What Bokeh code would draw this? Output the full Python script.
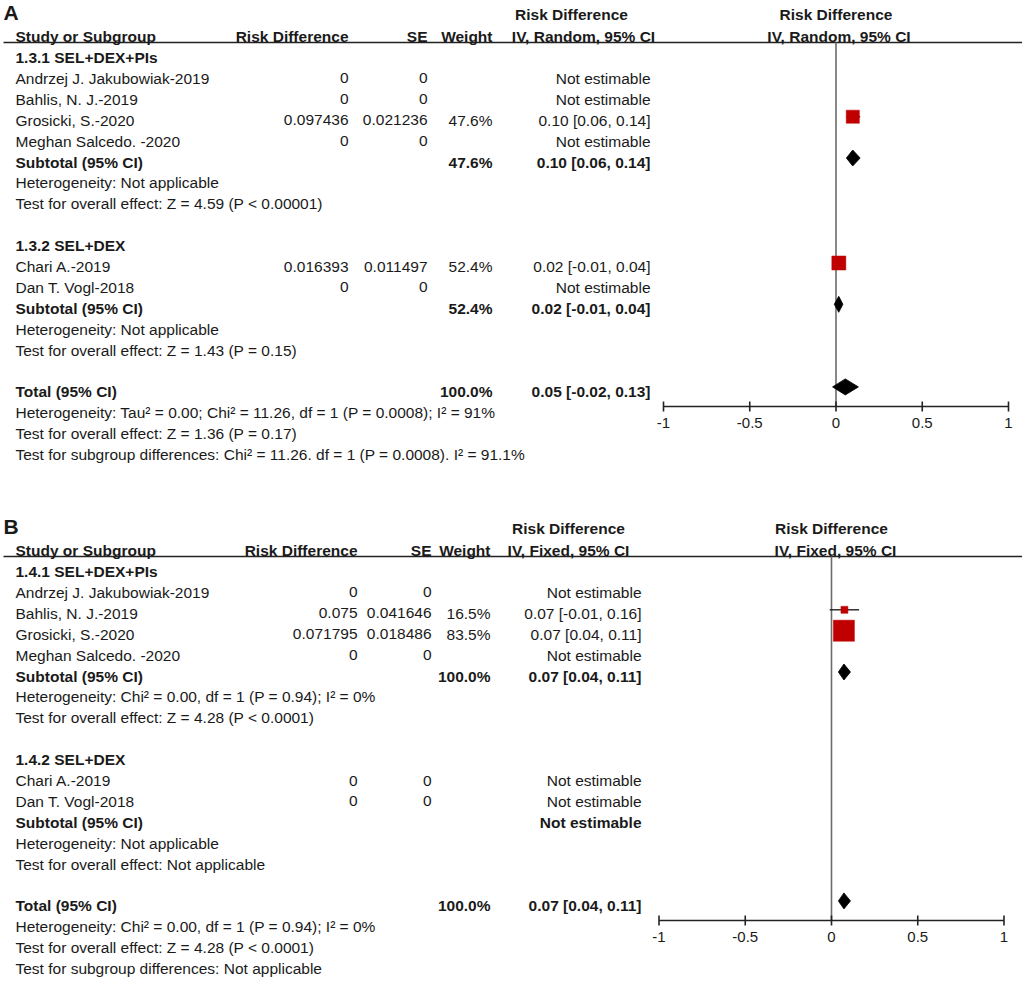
from bokeh.plotting import figure
from bokeh.models import Range1d, ColumnDataSource
from bokeh.core.properties import value
from bokeh.embed import file_html
from bokeh.resources import INLINE

FONT = value("Liberation Sans")
TXT = "#1a1a1a"

# ---------------- Panel A data ----------------
A_label = "A"
A_method = "IV, Random, 95% CI"
A_groups = ["1.3.1 SEL+DEX+PIs", "1.3.2 SEL+DEX"]
A_study = ["Andrzej J. Jakubowiak-2019", "Bahlis, N. J.-2019", "Grosicki, S.-2020",
           "Meghan Salcedo. -2020", "Chari A.-2019", "Dan T. Vogl-2018"]
A_study_group = [0, 0, 0, 0, 1, 1]
A_rd = [0, 0, 0.097436, 0, 0.016393, 0]
A_se = [0, 0, 0.021236, 0, 0.011497, 0]
A_weight = [None, None, 47.6, None, 52.4, None]
A_lo = [None, None, 0.06, None, -0.01, None]
A_hi = [None, None, 0.14, None, 0.04, None]
A_sub_weight = [47.6, 52.4]
A_sub_est = [0.097, 0.016]
A_sub_lo = [0.06, -0.01]
A_sub_hi = [0.14, 0.04]
A_sub_het = ["Heterogeneity: Not applicable", "Heterogeneity: Not applicable"]
A_sub_test = ["Test for overall effect: Z = 4.59 (P < 0.00001)",
              "Test for overall effect: Z = 1.43 (P = 0.15)"]
A_tot = [100.0, 0.054, -0.02, 0.13]
A_tot_notes = ["Heterogeneity: Tau\u00b2 = 0.00; Chi\u00b2 = 11.26, df = 1 (P = 0.0008); I\u00b2 = 91%",
               "Test for overall effect: Z = 1.36 (P = 0.17)",
               "Test for subgroup differences: Chi\u00b2 = 11.26. df = 1 (P = 0.0008). I\u00b2 = 91.1%"]

# ---------------- Panel B data ----------------
B_label = "B"
B_method = "IV, Fixed, 95% CI"
B_groups = ["1.4.1 SEL+DEX+PIs", "1.4.2 SEL+DEX"]
B_study = ["Andrzej J. Jakubowiak-2019", "Bahlis, N. J.-2019", "Grosicki, S.-2020",
           "Meghan Salcedo. -2020", "Chari A.-2019", "Dan T. Vogl-2018"]
B_study_group = [0, 0, 0, 0, 1, 1]
B_rd = [0, 0.075, 0.071795, 0, 0, 0]
B_se = [0, 0.041646, 0.018486, 0, 0, 0]
B_weight = [None, 16.5, 83.5, None, None, None]
B_lo = [None, -0.01, 0.04, None, None, None]
B_hi = [None, 0.16, 0.11, None, None, None]
B_sub_weight = [100.0, None]
B_sub_est = [0.072, None]
B_sub_lo = [0.04, None]
B_sub_hi = [0.11, None]
B_sub_het = ["Heterogeneity: Chi\u00b2 = 0.00, df = 1 (P = 0.94); I\u00b2 = 0%",
             "Heterogeneity: Not applicable"]
B_sub_test = ["Test for overall effect: Z = 4.28 (P < 0.0001)",
              "Test for overall effect: Not applicable"]
B_tot = [100.0, 0.072, 0.04, 0.11]
B_tot_notes = ["Heterogeneity: Chi\u00b2 = 0.00, df = 1 (P = 0.94); I\u00b2 = 0%",
               "Test for overall effect: Z = 4.28 (P < 0.0001)",
               "Test for subgroup differences: Not applicable"]

axis_ticks = [-1, -0.5, 0, 0.5, 1]

PANELS = [
    dict(label=A_label, method=A_method, groups=A_groups, study=A_study, study_group=A_study_group,
         rd=A_rd, se=A_se, weight=A_weight, lo=A_lo, hi=A_hi,
         sub_weight=A_sub_weight, sub_est=A_sub_est, sub_lo=A_sub_lo, sub_hi=A_sub_hi,
         sub_het=A_sub_het, sub_test=A_sub_test, tot=A_tot, tot_notes=A_tot_notes),
    dict(label=B_label, method=B_method, groups=B_groups, study=B_study, study_group=B_study_group,
         rd=B_rd, se=B_se, weight=B_weight, lo=B_lo, hi=B_hi,
         sub_weight=B_sub_weight, sub_est=B_sub_est, sub_lo=B_sub_lo, sub_hi=B_sub_hi,
         sub_het=B_sub_het, sub_test=B_sub_test, tot=B_tot, tot_notes=B_tot_notes),
]

# ---------------- layout (reference pixel space) ----------------
W, H = 1022, 984
XL, XR = 0, W
YT, YB = 0, H
LAYOUTS = [
    dict(off=0, rng="rdA", zero=835.5, unit=172.5, rd_x=348, se_x=427, w_x=492, ci_x=650,
         h1x=571, h2x=583, f1x=835.5, f2x=838.5, mc=0.95),
    dict(off=514, rng="rdB", zero=831.0, unit=172.5, rd_x=357, se_x=431, w_x=490, ci_x=641,
         h1x=568, h2x=568, f1x=831, f2x=835, mc=1.04),
]
NAME_X = 15
DY = 20.9

p = figure(width=W, height=H, x_range=Range1d(XL, XR), y_range=Range1d(YB, YT),
           output_backend="svg", toolbar_location=None, x_axis_type=None, y_axis_type=None,
           min_border=0, outline_line_color=None, background_fill_color="white")
p.extra_x_ranges = {
    L["rng"]: Range1d(-(L["zero"] - XL) / L["unit"], (XR - L["zero"]) / L["unit"]) for L in LAYOUTS
}

texts = {}


def add_text(x, y, s, align="left", bold=False, size="15.5px"):
    key = (align, "bold" if bold else "normal", size)
    d = texts.setdefault(key, {"x": [], "y": [], "text": []})
    d["x"].append(x)
    d["y"].append(y)
    d["text"].append(s)


def fmt_num(v):
    return f"{v:g}"


def fmt_ci(e, lo, hi):
    return f"{e:.2f} [{lo:.2f}, {hi:.2f}]"


for P, L in zip(PANELS, LAYOUTS):
    o = L["off"]
    rng = L["rng"]
    y0 = 57 + o

    def ry(k):
        return y0 + DY * k

    add_text(3, 12 + o, P["label"], bold=True, size="21px")
    h1, h2 = 14 + o, 36 + o
    add_text(NAME_X, h2, "Study or Subgroup", bold=True)
    add_text(L["rd_x"], h2, "Risk Difference", "right", True)
    add_text(L["se_x"], h2, "SE", "right", True)
    add_text(L["w_x"], h2, "Weight", "right", True)
    add_text(L["h1x"], h1, "Risk Difference", "center", True)
    add_text(L["h2x"], h2, P["method"], "center", True)
    add_text(L["f1x"], h1, "Risk Difference", "center", True)
    add_text(L["f2x"], h2, P["method"], "center", True)

    line_y = 42 + o
    axis_y = 406 + o
    p.segment(x0=[3], x1=[XR], y0=[line_y], y1=[line_y], line_color="#222222", line_width=1.6)
    # zero line
    p.segment(x0=[0], x1=[0], y0=[line_y], y1=[axis_y], x_range_name=rng,
              line_color="#6b6b6b", line_width=1.6)

    sq = dict(x=[], y=[], size=[])
    ci = dict(x0=[], x1=[], y=[])
    dia = dict(xs=[], ys=[])

    def diamond(e, lo, hi, y):
        dia["xs"].append([lo, e, hi, e])
        dia["ys"].append([y, y - 8, y, y + 8])

    k = 0
    for g, gname in enumerate(P["groups"]):
        add_text(NAME_X, ry(k), gname, bold=True)
        k += 1
        for i, s in enumerate(P["study"]):
            if P["study_group"][i] != g:
                continue
            y = ry(k)
            add_text(NAME_X, y, s)
            add_text(L["rd_x"], y, fmt_num(P["rd"][i]), "right")
            add_text(L["se_x"], y, fmt_num(P["se"][i]), "right")
            w = P["weight"][i]
            if w is None:
                add_text(L["ci_x"], y, "Not estimable", "right")
            else:
                add_text(L["w_x"], y, f"{w:.1f}%", "right")
                add_text(L["ci_x"], y, fmt_ci(P["rd"][i], P["lo"][i], P["hi"][i]), "right")
                sq["x"].append(P["rd"][i])
                sq["y"].append(y - 3.5)
                sq["size"].append(L["mc"] * w ** 0.68)
                ci["x0"].append(P["lo"][i])
                ci["x1"].append(P["hi"][i])
                ci["y"].append(y - 3.5)
            k += 1
        y = ry(k)
        add_text(NAME_X, y, "Subtotal (95% CI)", bold=True)
        sw = P["sub_weight"][g]
        if sw is None:
            add_text(L["ci_x"], y, "Not estimable", "right", True)
        else:
            add_text(L["w_x"], y, f"{sw:.1f}%", "right", True)
            add_text(L["ci_x"], y, fmt_ci(P["sub_est"][g], P["sub_lo"][g], P["sub_hi"][g]), "right", True)
            diamond(P["sub_est"][g], P["sub_lo"][g], P["sub_hi"][g], y - 4)
        k += 1
        add_text(NAME_X, ry(k), P["sub_het"][g])
        k += 1
        add_text(NAME_X, ry(k), P["sub_test"][g])
        k += 2
    y = ry(k)
    tw, te, tlo, thi = P["tot"]
    add_text(NAME_X, y, "Total (95% CI)", bold=True)
    add_text(L["w_x"], y, f"{tw:.1f}%", "right", True)
    add_text(L["ci_x"], y, fmt_ci(te, tlo, thi), "right", True)
    diamond(te, tlo, thi, y - 5)
    for note in P["tot_notes"]:
        k += 1
        add_text(NAME_X, ry(k), note)

    # CI lines, squares, diamonds
    p.segment(x0="x0", x1="x1", y0="y", y1="y", source=ColumnDataSource(ci), x_range_name=rng,
              line_color="#222222", line_width=1.4)
    p.scatter(x="x", y="y", size="size", marker="square", source=ColumnDataSource(sq),
              x_range_name=rng, fill_color="#c00000", line_color="#c00000", line_width=0.5)
    p.patches(xs="xs", ys="ys", source=ColumnDataSource(dia), x_range_name=rng,
              fill_color="#000000", line_color="#000000", line_width=0.8)

    # axis
    p.segment(x0=[axis_ticks[0]], x1=[axis_ticks[-1]], y0=[axis_y], y1=[axis_y], x_range_name=rng,
              line_color="#222222", line_width=1.6)
    p.segment(x0=axis_ticks, x1=axis_ticks, y0=[axis_y - 5] * len(axis_ticks),
              y1=[axis_y + 5] * len(axis_ticks), x_range_name=rng, line_color="#222222", line_width=1.6)
    p.text(x=axis_ticks, y=[axis_y + 16] * len(axis_ticks), text=[f"{t:g}" for t in axis_ticks],
           x_range_name=rng, text_align="center", text_baseline="middle", text_font=FONT,
           text_font_size="15px", text_color=TXT)

for (align, style, size), d in texts.items():
    p.text(x="x", y="y", text="text", source=ColumnDataSource(d), text_align=align,
           text_baseline="middle", text_font=FONT, text_font_style=style, text_font_size=size,
           text_color=TXT)

open("out.html", "w").write(file_html(p, INLINE))
